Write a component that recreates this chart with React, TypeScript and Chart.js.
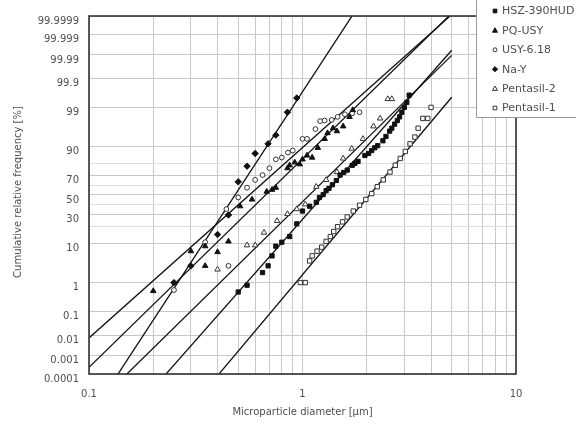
import { useEffect, useRef } from 'react';
import { Chart, registerables } from 'chart.js';

Chart.register(...registerables);

// ---------- data ----------
const seriesNames = ['HSZ-390HUD', 'PQ-USY', 'USY-6.18', 'Na-Y', 'Pentasil-2', 'Pentasil-1'];

// diameter [μm] / cumulative relative frequency [%]
const hszD = [0.50, 0.55, 0.65, 0.69, 0.72, 0.75, 0.80, 0.87, 0.94, 1.00, 1.08, 1.16, 1.20, 1.25, 1.29, 1.33, 1.38, 1.44, 1.50, 1.56, 1.62, 1.71, 1.76, 1.82, 1.96, 2.04, 2.11, 2.18, 2.25, 2.38, 2.46, 2.56, 2.62, 2.70, 2.78, 2.85, 2.92, 3.00, 3.08, 3.16];
const hszP = [0.50, 0.83, 1.97, 3.0, 5.3, 8.7, 10.5, 13.5, 22.2, 33.5, 38.3, 42.3, 47.4, 50.5, 54.6, 57.0, 60.7, 65.0, 70.2, 72.5, 74.6, 78.5, 80.0, 81.4, 85.3, 86.5, 88.1, 89.5, 90.5, 92.5, 94.0, 95.5, 96.2, 97.0, 97.6, 98.1, 98.6, 99.0, 99.3, 99.6];

const pqD = [0.20, 0.30, 0.35, 0.35, 0.40, 0.45, 0.51, 0.58, 0.68, 0.72, 0.75, 0.85, 0.87, 0.92, 0.97, 1.00, 1.05, 1.11, 1.18, 1.27, 1.31, 1.39, 1.45, 1.55, 1.66, 1.72];
const pqP = [0.54, 6.8, 3.0, 8.7, 6.5, 10.9, 38.3, 45.3, 53.6, 55.6, 57.7, 76.2, 78.5, 80.7, 79.3, 82.8, 85.3, 84.0, 89.5, 93.2, 95.0, 96.2, 95.5, 96.6, 98.1, 98.8];

const usyD = [0.25, 0.35, 0.45, 0.44, 0.50, 0.55, 0.60, 0.65, 0.70, 0.75, 0.80, 0.855, 0.90, 1.00, 1.05, 1.15, 1.21, 1.27, 1.37, 1.46, 1.58, 1.71, 1.85];
const usyP = [0.58, 10.5, 3.0, 35.4, 47.4, 57.7, 65.6, 70.2, 76.2, 82.8, 84.0, 87.0, 88.1, 93.2, 93.2, 96.0, 97.5, 97.6, 97.7, 98.1, 98.4, 98.5, 98.6];

const naD = [0.25, 0.30, 0.40, 0.45, 0.50, 0.55, 0.60, 0.69, 0.75, 0.85, 0.94];
const naP = [1.0, 3.0, 14.7, 29.8, 63.7, 77.8, 86.5, 91.3, 94.4, 98.6, 99.5];

const pen2D = [0.40, 0.55, 0.60, 0.66, 0.76, 0.85, 0.94, 1.03, 1.16, 1.29, 1.45, 1.55, 1.70, 1.92, 2.15, 2.31, 2.51, 2.62];
const pen2P = [2.4, 9.1, 9.1, 15.9, 24.6, 30.7, 35.4, 40.3, 58.7, 65.6, 72.9, 83.4, 89.1, 93.2, 96.6, 97.9, 99.46, 99.46];

const pen1D = [0.977, 1.03, 1.08, 1.11, 1.17, 1.23, 1.29, 1.35, 1.40, 1.46, 1.54, 1.62, 1.73, 1.85, 1.98, 2.11, 2.24, 2.39, 2.57, 2.72, 2.87, 3.03, 3.19, 3.36, 3.48, 3.66, 3.86, 4.0];
const pen1P = [1.0, 1.0, 4.0, 5.3, 6.8, 8.3, 10.9, 13.5, 16.6, 20.0, 23.8, 28.0, 33.5, 39.3, 45.3, 51.5, 58.7, 65.6, 72.9, 78.5, 83.4, 87.6, 91.3, 93.8, 96.2, 97.9, 97.9, 99.0];

// fitted log-normal lines: median diameter [μm] and geometric standard deviation
const fitD50 = [1.261, 0.671, 0.5635, 0.483, 1.077, 2.06];
const fitSigmaG = [1.431, 1.516, 1.577, 1.304, 1.513, 1.407];
const fitRange = [0.1, 5];

// axes
const yTickLabels = ['0.0001', '0.001', '0.01', '0.1', '1', '10', '30', '50', '70', '90', '99', '99.9', '99.99', '99.999', '99.9999'];
const yMinorGrid = [20, 40, 60, 80];
const xMajorTicks = [0.1, 1, 10];
const xMinorTicks = [0.2, 0.3, 0.4, 0.5, 0.6, 0.7, 0.8, 0.9, 2, 3, 4, 5, 6, 7, 8, 9];

// ---------- helpers ----------
function probit(p: number): number {
  const a = [-3.969683028665376e1, 2.209460984245205e2, -2.759285104469687e2, 1.38357751867269e2, -3.066479806614716e1, 2.506628277459239];
  const b = [-5.447609879822406e1, 1.615858368580409e2, -1.556989798598866e2, 6.680131188771972e1, -1.328068155288572e1];
  const c = [-7.784894002430293e-3, -3.223964580411365e-1, -2.400758277161838, -2.549732539343734, 4.374664141464968, 2.938163982698783];
  const d = [7.784695709041462e-3, 3.224671290700398e-1, 2.445134137142996, 3.754408661907416];
  const pl = 0.02425;
  if (p < pl) {
    const q = Math.sqrt(-2 * Math.log(p));
    return (((((c[0] * q + c[1]) * q + c[2]) * q + c[3]) * q + c[4]) * q + c[5]) / ((((d[0] * q + d[1]) * q + d[2]) * q + d[3]) * q + 1);
  }
  if (p <= 1 - pl) {
    const q = p - 0.5, r = q * q;
    return (((((a[0] * r + a[1]) * r + a[2]) * r + a[3]) * r + a[4]) * r + a[5]) * q / (((((b[0] * r + b[1]) * r + b[2]) * r + b[3]) * r + b[4]) * r + 1);
  }
  const q = Math.sqrt(-2 * Math.log(1 - p));
  return -(((((c[0] * q + c[1]) * q + c[2]) * q + c[3]) * q + c[4]) * q + c[5]) / ((((d[0] * q + d[1]) * q + d[2]) * q + d[3]) * q + 1);
}

const FONT = '"DejaVu Sans", sans-serif';
const TEXT = '#505050';

type Mk = { style: 'rect' | 'triangle' | 'circle' | 'rectRot'; filled: boolean; r: number };
const markers: Mk[] = [
  { style: 'rect', filled: true, r: 3.0 },
  { style: 'triangle', filled: true, r: 3.2 },
  { style: 'circle', filled: false, r: 2.4 },
  { style: 'rectRot', filled: true, r: 3.2 },
  { style: 'triangle', filled: false, r: 3.2 },
  { style: 'rect', filled: false, r: 3.1 },
];

function drawMarker(ctx: CanvasRenderingContext2D, m: Mk, x: number, y: number, r: number) {
  ctx.beginPath();
  if (m.style === 'rect') {
    const s = r * Math.SQRT1_2;
    ctx.rect(x - s, y - s, 2 * s, 2 * s);
  } else if (m.style === 'rectRot') {
    ctx.moveTo(x, y - r); ctx.lineTo(x + r, y); ctx.lineTo(x, y + r); ctx.lineTo(x - r, y); ctx.closePath();
  } else if (m.style === 'triangle') {
    ctx.moveTo(x, y - r); ctx.lineTo(x + r * 0.95, y + r * 0.7); ctx.lineTo(x - r * 0.95, y + r * 0.7); ctx.closePath();
  } else {
    ctx.arc(x, y, r, 0, Math.PI * 2);
  }
  ctx.fillStyle = m.filled ? '#111' : '#fff';
  ctx.fill();
  ctx.lineWidth = 1;
  ctx.strokeStyle = m.filled ? '#111' : '#333';
  ctx.stroke();
}

const App = () => {
  const ref = useRef<HTMLCanvasElement>(null);

  useEffect(() => {
    document.body.style.margin = '0';
    const canvas = ref.current!;
    const toPts = (d: number[], p: number[]) => d.map((v, i) => ({ x: v, y: probit(p[i] / 100) }));
    const seriesData = [
      toPts(hszD, hszP), toPts(pqD, pqP), toPts(usyD, usyP),
      toPts(naD, naP), toPts(pen2D, pen2P), toPts(pen1D, pen1P),
    ];

    const pointSets: any[] = seriesNames.map((name, i) => ({
      label: name,
      data: seriesData[i],
      showLine: false,
      pointStyle: markers[i].style,
      pointRadius: markers[i].r,
      pointBackgroundColor: markers[i].filled ? '#111' : '#fff',
      pointBorderColor: markers[i].filled ? '#111' : '#333',
      pointBorderWidth: 1,
      order: 1,
    }));

    const lineSets: any[] = fitD50.map((d50, i) => ({
      label: 'fit ' + seriesNames[i],
      data: fitRange.map((d) => ({ x: d, y: Math.log(d / d50) / Math.log(fitSigmaG[i]) })),
      showLine: true,
      pointRadius: 0,
      borderColor: '#111',
      borderWidth: 1.3,
      order: 2,
    }));

    const yAll = [...yTickLabels.map((s) => parseFloat(s)), ...yMinorGrid].sort((a, b) => a - b);
    const yMin = probit(1e-6);
    const yMax = probit(1 - 1e-6);
    const xAll = [...xMajorTicks, ...xMinorTicks].sort((a, b) => a - b);

    const overlay = {
      id: 'overlay',
      afterDraw(chart: any) {
        const ctx: CanvasRenderingContext2D = chart.ctx;
        const a = chart.chartArea;
        ctx.save();
        // frame
        ctx.strokeStyle = '#333';
        ctx.lineWidth = 1.6;
        ctx.strokeRect(a.left, a.top, a.right - a.left, a.bottom - a.top);
        // titles
        ctx.fillStyle = TEXT;
        ctx.font = `10px ${FONT}`;
        ctx.textAlign = 'center';
        ctx.textBaseline = 'middle';
        ctx.fillText('Microparticle diameter [μm]', chart.scales.x.getPixelForValue(1), 412);
        ctx.save();
        ctx.translate(18, (a.top + a.bottom) / 2 - 3);
        ctx.rotate(-Math.PI / 2);
        ctx.fillText('Cumulative relative frequency [%]', 0, 0);
        ctx.restore();
        // legend
        const lx = 476;
        ctx.fillStyle = '#fff';
        ctx.fillRect(lx, 0, 120, 117);
        ctx.strokeStyle = '#999';
        ctx.lineWidth = 1;
        ctx.beginPath();
        ctx.moveTo(lx + 0.5, 0);
        ctx.lineTo(lx + 0.5, 117.5);
        ctx.lineTo(600, 117.5);
        ctx.stroke();
        ctx.font = `11px ${FONT}`;
        ctx.textAlign = 'left';
        seriesNames.forEach((name, i) => {
          const y = 11 + i * 19.4;
          drawMarker(ctx, markers[i], 495, y, markers[i].style === 'circle' ? 2 : 2.6);
          ctx.fillStyle = TEXT;
          ctx.fillText(name, 502, y + 0.5);
        });
        ctx.restore();
      },
    };

    const chart = new Chart(canvas, {
      type: 'scatter',
      data: { datasets: [...pointSets, ...lineSets] },
      options: {
        responsive: false,
        animation: false,
        devicePixelRatio: 1,
        events: [],
        layout: { padding: { left: 0, right: 60, top: 7, bottom: 0 } },
        plugins: { legend: { display: false }, tooltip: { enabled: false } },
        scales: {
          x: {
            type: 'logarithmic',
            min: 0.1,
            max: 10,
            afterBuildTicks: (s: any) => { s.ticks = xAll.map((v) => ({ value: v })); },
            afterFit: (s: any) => { s.height = 51; },
            ticks: {
              autoSkip: false,
              maxRotation: 0,
              padding: 14,
              color: TEXT,
              font: { family: FONT, size: 10 },
              callback: (v: any) => (xMajorTicks.includes(v) ? String(v) : ''),
            },
            grid: { drawTicks: false, color: '#c8c8c8', lineWidth: 1 },
            border: { display: false },
          },
          y: {
            type: 'linear',
            min: yMin,
            max: yMax,
            afterBuildTicks: (s: any) => { s.ticks = yAll.map((p) => ({ value: probit(p / 100) })); },
            afterFit: (s: any) => { s.width = 89; },
            ticks: {
              autoSkip: false,
              padding: 10,
              labelOffset: 5,
              color: TEXT,
              font: { family: FONT, size: 10 },
              callback: (v: any) => {
                const i = yAll.findIndex((p) => Math.abs(probit(p / 100) - v) < 1e-9);
                const p = yAll[i];
                return yMinorGrid.includes(p) ? '' : yTickLabels.find((s) => parseFloat(s) === p) || '';
              },
            },
            grid: {
              drawTicks: false,
              lineWidth: 1,
              color: (c: any) => {
                const v = c.tick ? c.tick.value : 0;
                const minor = yMinorGrid.some((p) => Math.abs(probit(p / 100) - v) < 1e-9);
                return minor ? '#dddddd' : '#c8c8c8';
              },
            },
            border: { display: false },
          },
        },
      } as any,
      plugins: [overlay],
    });
    return () => chart.destroy();
  }, []);

  return (
    <div style={{ width: 576, height: 425 }}>
      <canvas ref={ref} width={576} height={425} style={{ display: 'block' }} />
    </div>
  );
};

export default App;
